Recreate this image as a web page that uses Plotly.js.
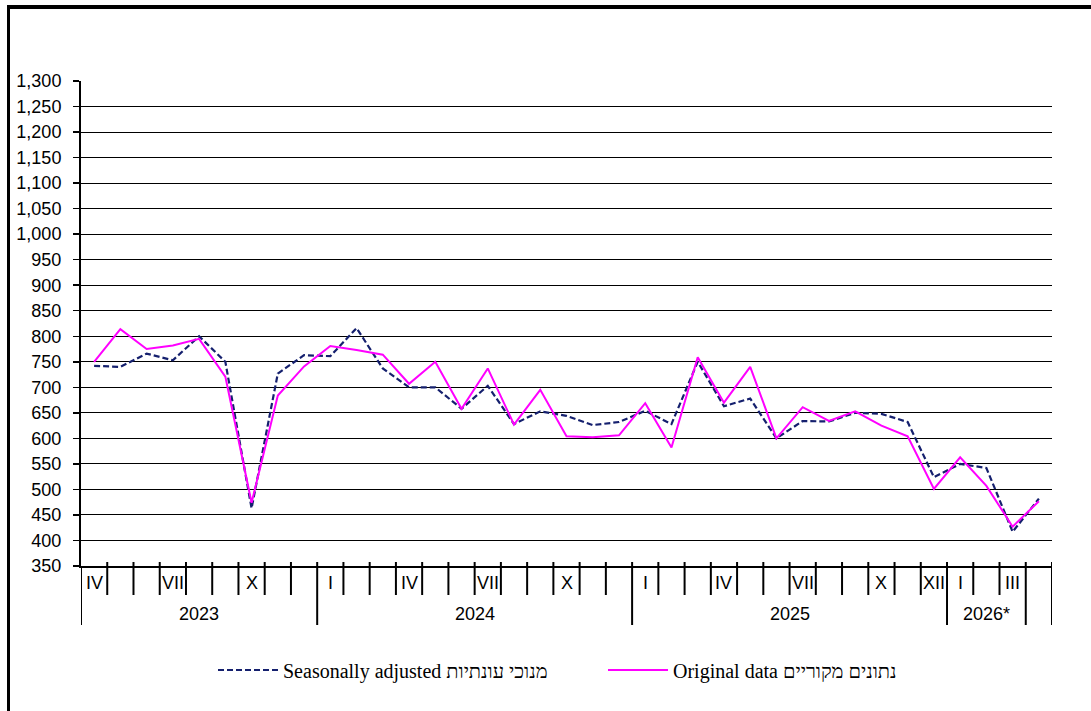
<!DOCTYPE html>
<html>
<head>
<meta charset="utf-8">
<script src="https://cdn.plot.ly/plotly-3.0.1.min.js"></script>
<style>
  html, body { margin: 0; padding: 0; background: #fff; }
  #wrap { position: relative; width: 1091px; height: 711px; overflow: hidden; }
  #frame { position: absolute; left: 7px; top: 5px; width: 2000px; height: 2000px;
           border-left: 3px solid #000; border-top: 4px solid #000; pointer-events: none; z-index: 2; }
  #chart { position: absolute; left: 0; top: 0; width: 1091px; height: 711px; }
</style>
</head>
<body>
<div id="wrap">
  <div id="chart"></div>
  <div id="frame"></div>
</div>
<script>
// Month labels (April 2023 .. April 2026), blank where no label is shown
const monthLabels = ['IV','','','VII','','','X','','',
                     'I','','','IV','','','VII','','','X','','',
                     'I','','','IV','','','VII','','','X','','XII',
                     'I','','III',''];
// Year groups: label, first month index, last month index
const yearLabels = ['2023','2024','2025','2026*',''];
const yearFirst  = [0, 9, 21, 33, 36];
const yearLast   = [8, 20, 32, 35, 36];

// Series values
const seasonallyAdjusted = [742, 740, 766, 753, 800, 750, 463, 727, 763,
                            761, 816, 737, 700, 700, 658, 703, 628, 653, 644, 626, 632,
                            654, 628, 750, 663, 678, 600, 634, 633, 650, 648, 632, 524,
                            550, 542, 417, 482];
const originalData = [750, 814, 775, 782, 795, 721, 474, 684, 741,
                      781, 773, 764, 707, 750, 658, 737, 627, 695, 604, 602, 606,
                      669, 582, 759, 670, 740, 600, 661, 634, 653, 625, 604, 501,
                      563, 507, 427, 477];

const idx = monthLabels.map((_, i) => i);

// layout geometry (pixels)
const W = 1091, H = 711;
const mL = 81, mR = 39, mT = 81, mB = 145;
const plotH = H - mT - mB;
const px = p => p / plotH;

const traces = [
  { x: idx, y: seasonallyAdjusted, type: 'scatter', mode: 'lines',
    name: 'Seasonally adjusted מנוכי עונתיות',
    line: { color: '#15206e', width: 2.2, dash: '6px,3px' } },
  { x: idx, y: originalData, type: 'scatter', mode: 'lines',
    name: 'Original data נתונים מקוריים',
    line: { color: '#ff00ff', width: 2 } }
];

// axis decorations: month separators and year separators
const shapes = [];
const yearBounds = new Set();
yearFirst.forEach(f => yearBounds.add(f - 0.5));
yearLast.forEach(l => yearBounds.add(l + 0.5));
for (let b = -0.5; b <= monthLabels.length - 0.5; b += 1) {
  const isYear = yearBounds.has(b);
  shapes.push({ type: 'line', xref: 'x', yref: 'paper', x0: b, x1: b,
    y0: isYear && b === -0.5 ? 0 : px(4), y1: isYear ? -px(59) : -px(29),
    line: { color: '#000', width: 2 } });
}

const annotations = [];
monthLabels.forEach((t, i) => {
  if (!t) return;
  annotations.push({ x: i, xref: 'x', y: 0, yref: 'paper', text: t, showarrow: false,
    yanchor: 'middle', yshift: -17, font: { family: 'Liberation Sans, Arial', size: 18, color: '#000' } });
});
yearLabels.forEach((t, k) => {
  if (!t) return;
  annotations.push({ x: (yearFirst[k] + yearLast[k]) / 2, xref: 'x', y: 0, yref: 'paper', text: t,
    showarrow: false, yanchor: 'middle', yshift: -48,
    font: { family: 'Liberation Sans, Arial', size: 18, color: '#000' } });
});

const layout = {
  width: W, height: H,
  margin: { l: mL, r: mR, t: mT, b: mB, pad: 0 },
  paper_bgcolor: '#fff', plot_bgcolor: '#fff',
  font: { family: 'Liberation Sans, Arial', size: 18, color: '#000' },
  showlegend: true,
  legend: { orientation: 'h', x: (213 - mL) / (W - mL - mR), xanchor: 'left',
            y: -px(104), yanchor: 'middle', entrywidth: 315, entrywidthmode: 'pixels',
            itemwidth: 60,
            font: { family: 'Liberation Serif, Times New Roman', size: 20, color: '#000' },
            bgcolor: 'rgba(0,0,0,0)' },
  xaxis: { range: [-0.5, monthLabels.length - 0.5], showgrid: false, zeroline: false,
           showticklabels: false, ticks: '', showline: true, linecolor: '#000', linewidth: 2,
           fixedrange: true },
  yaxis: { range: [350, 1300], dtick: 50, tick0: 350, tickformat: ',', showgrid: true,
           gridcolor: '#000', gridwidth: 1, zeroline: false, showline: true, linecolor: '#000',
           linewidth: 2, ticks: 'outside', ticklen: 6, tickwidth: 1.5, tickcolor: '#000',
           ticklabelstandoff: 8, tickfont: { size: 18 }, fixedrange: true },
  shapes: shapes,
  annotations: annotations
};

Plotly.newPlot('chart', traces, layout, { displayModeBar: false, staticPlot: true });
</script>
</body>
</html>
